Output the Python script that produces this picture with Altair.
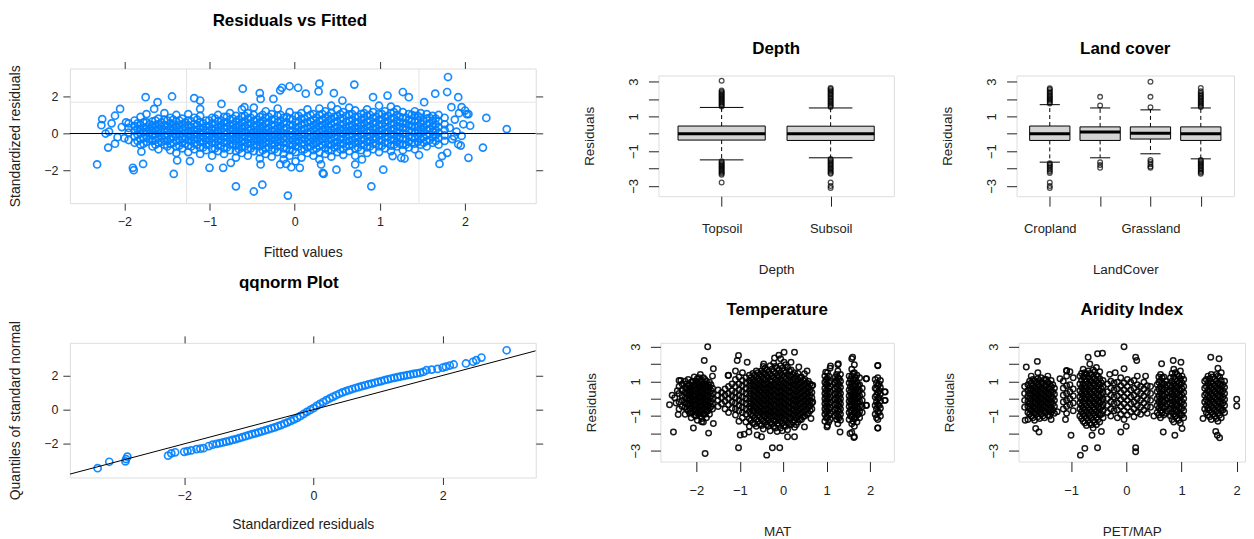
import altair as alt
import pandas as pd

FONT = "Liberation Sans"
BLUE = "#0080ff"
INK = "#222222"

# ---------------- Residuals vs Fitted (x = fitted, y = standardized residual) ----------------
RVF_COLUMNS = [
    (-1.95, [-0.35, 0.05, 0.3, 0.55]),
    (-1.88, [-0.5, -0.15, 0.15, 0.4, 0.7]),
    (-1.81, [-0.6, -0.3, 0.0, 0.2, 0.45, 0.9]),
    (-1.74, [-0.45, -0.2, 0.1, 0.35, 0.6, 1.05]),
    (-1.67, [-0.7, -0.4, -0.1, 0.15, 0.4, 0.65]),
    (-1.60, [-0.85, -0.5, -0.25, 0.0, 0.25, 0.5, 0.8]),
    (-1.53, [-0.6, -0.35, -0.1, 0.2, 0.45, 0.75, 1.1]),
    (-1.46, [-0.9, -0.55, -0.3, 0.05, 0.3, 0.55, 0.85]),
    (-1.39, [-1.05, -0.7, -0.4, -0.15, 0.1, 0.35, 0.65, 1.0]),
    (-1.32, [-0.8, -0.5, -0.25, 0.0, 0.25, 0.5, 0.8]),
    (-1.25, [-1.0, -0.65, -0.35, -0.1, 0.15, 0.45, 0.7, 1.05]),
    (-1.18, [-0.85, -0.55, -0.3, -0.05, 0.2, 0.5, 0.85]),
    (-1.11, [-1.1, -0.75, -0.45, -0.2, 0.05, 0.3, 0.6, 0.95]),
    (-1.04, [-0.9, -0.6, -0.35, -0.1, 0.15, 0.4, 0.7]),
    (-0.97, [-1.2, -0.8, -0.5, -0.25, 0.0, 0.25, 0.55, 0.85]),
    (-0.90, [-0.95, -0.65, -0.4, -0.15, 0.1, 0.35, 0.65, 1.0]),
    (-0.83, [-1.1, -0.8, -0.5, -0.2, 0.05, 0.3, 0.6, 0.9]),
    (-0.76, [-0.9, -0.6, -0.35, -0.1, 0.2, 0.45, 0.75, 1.1]),
    (-0.69, [-1.3, -0.95, -0.65, -0.4, -0.15, 0.1, 0.35, 0.65, 0.95]),
    (-0.62, [-1.05, -0.75, -0.45, -0.2, 0.05, 0.3, 0.6, 0.9, 1.3]),
    (-0.55, [-1.2, -0.85, -0.55, -0.3, 0.0, 0.25, 0.5, 0.8, 1.1]),
    (-0.48, [-0.95, -0.65, -0.4, -0.15, 0.1, 0.4, 0.7, 1.0, 1.4]),
    (-0.41, [-1.35, -1.0, -0.7, -0.45, -0.2, 0.05, 0.3, 0.6, 0.9]),
    (-0.34, [-1.1, -0.8, -0.5, -0.25, 0.0, 0.25, 0.55, 0.85, 1.2]),
    (-0.27, [-1.25, -0.9, -0.6, -0.35, -0.1, 0.15, 0.45, 0.75, 1.05]),
    (-0.20, [-1.0, -0.7, -0.45, -0.2, 0.05, 0.3, 0.6, 0.95, 1.35]),
    (-0.13, [-1.4, -1.1, -0.8, -0.5, -0.25, 0.0, 0.25, 0.55, 0.85]),
    (-0.06, [-1.2, -0.9, -0.6, -0.35, -0.1, 0.15, 0.45, 0.8, 1.15]),
    (0.01, [-1.5, -1.0, -0.7, -0.45, -0.2, 0.05, 0.3, 0.6, 0.95]),
    (0.08, [-1.3, -0.85, -0.55, -0.3, -0.05, 0.2, 0.5, 0.8, 1.1]),
    (0.15, [-1.05, -0.75, -0.45, -0.2, 0.05, 0.3, 0.6, 0.9, 1.3]),
    (0.22, [-1.2, -0.9, -0.6, -0.35, -0.1, 0.2, 0.45, 0.75, 1.05]),
    (0.29, [-1.4, -1.0, -0.7, -0.4, -0.15, 0.1, 0.4, 0.7, 1.0, 1.35]),
    (0.36, [-1.1, -0.8, -0.5, -0.25, 0.0, 0.3, 0.55, 0.85, 1.2]),
    (0.43, [-1.25, -0.9, -0.6, -0.3, -0.05, 0.2, 0.5, 0.8, 1.1, 1.5]),
    (0.50, [-1.0, -0.7, -0.45, -0.15, 0.1, 0.35, 0.65, 0.95, 1.3]),
    (0.57, [-1.15, -0.85, -0.55, -0.3, 0.0, 0.25, 0.5, 0.8, 1.15]),
    (0.64, [-0.95, -0.65, -0.4, -0.1, 0.15, 0.4, 0.7, 1.0, 1.4]),
    (0.71, [-1.2, -0.8, -0.5, -0.25, 0.05, 0.3, 0.6, 0.9, 1.25]),
    (0.78, [-0.9, -0.6, -0.35, -0.05, 0.2, 0.45, 0.75, 1.05]),
    (0.85, [-1.05, -0.75, -0.45, -0.15, 0.1, 0.4, 0.65, 0.95, 1.3]),
    (0.92, [-0.85, -0.55, -0.3, 0.0, 0.25, 0.55, 0.85, 1.15]),
    (0.99, [-1.0, -0.7, -0.4, -0.1, 0.15, 0.45, 0.75, 1.05, 1.5]),
    (1.06, [-0.8, -0.5, -0.2, 0.05, 0.35, 0.6, 0.9, 1.2]),
    (1.13, [-0.95, -0.65, -0.35, -0.05, 0.2, 0.5, 0.8, 1.1, 1.45]),
    (1.20, [-0.7, -0.45, -0.15, 0.1, 0.4, 0.7, 1.0, 1.3]),
    (1.27, [-0.9, -0.6, -0.3, 0.0, 0.3, 0.55, 0.85, 1.15]),
    (1.34, [-0.75, -0.45, -0.15, 0.15, 0.45, 0.75, 1.05]),
    (1.41, [-0.85, -0.55, -0.25, 0.05, 0.35, 0.65, 0.95, 1.2]),
    (1.48, [-0.6, -0.3, 0.0, 0.25, 0.55, 0.85, 1.1]),
    (1.55, [-0.7, -0.4, -0.1, 0.2, 0.5, 0.8, 1.05]),
    (1.62, [-0.5, -0.2, 0.1, 0.4, 0.7, 0.95]),
    (1.69, [-0.6, -0.25, 0.05, 0.35, 0.65, 1.0]),
    (1.76, [-0.4, -0.1, 0.2, 0.5, 0.85]),
]
RVF_CORE_EXTRA = [
    (-1.845, [-0.4, -0.05, 0.25, 0.55]),
    (-1.775, [-0.55, -0.25, 0.05, 0.3, 0.6]),
    (-1.705, [-0.3, 0.0, 0.25, 0.5]),
    (-1.635, [-0.6, -0.35, -0.05, 0.2, 0.45, 0.7]),
    (-1.565, [-0.45, -0.15, 0.1, 0.35, 0.6]),
    (-1.495, [-0.7, -0.4, -0.1, 0.15, 0.4, 0.7]),
    (-1.425, [-0.5, -0.2, 0.0, 0.25, 0.5, 0.75]),
    (-1.355, [-0.65, -0.35, -0.05, 0.2, 0.45, 0.7]),
    (-1.285, [-0.55, -0.3, 0.05, 0.35, 0.6]),
    (-1.215, [-0.7, -0.4, -0.15, 0.1, 0.35, 0.65]),
    (-1.145, [-0.6, -0.3, -0.05, 0.2, 0.45, 0.75]),
    (-1.075, [-0.75, -0.45, -0.2, 0.05, 0.3, 0.55]),
    (-1.005, [-0.6, -0.35, -0.1, 0.15, 0.4, 0.7]),
    (-0.935, [-0.8, -0.5, -0.25, 0.0, 0.25, 0.5, 0.8]),
    (-0.865, [-0.65, -0.35, -0.1, 0.2, 0.45, 0.7]),
    (-0.795, [-0.75, -0.45, -0.2, 0.05, 0.35, 0.6, 0.9]),
    (-0.725, [-0.55, -0.3, 0.0, 0.25, 0.5, 0.8]),
    (-0.655, [-0.85, -0.6, -0.3, -0.05, 0.2, 0.45, 0.75]),
    (-0.585, [-0.7, -0.45, -0.15, 0.1, 0.4, 0.65, 0.95]),
    (-0.515, [-0.8, -0.5, -0.25, 0.0, 0.25, 0.55, 0.85]),
    (-0.445, [-0.6, -0.3, -0.05, 0.2, 0.45, 0.75]),
    (-0.375, [-0.9, -0.6, -0.35, -0.1, 0.15, 0.4, 0.7, 1.0]),
    (-0.305, [-0.75, -0.45, -0.2, 0.05, 0.3, 0.6, 0.9]),
    (-0.235, [-0.85, -0.55, -0.3, -0.05, 0.2, 0.45, 0.75]),
    (-0.165, [-0.65, -0.4, -0.1, 0.15, 0.4, 0.7, 1.0]),
    (-0.095, [-0.8, -0.5, -0.25, 0.0, 0.3, 0.6, 0.9]),
    (-0.025, [-0.9, -0.6, -0.35, -0.1, 0.15, 0.45, 0.75]),
    (0.045, [-0.7, -0.4, -0.15, 0.1, 0.35, 0.65, 0.95]),
    (0.115, [-0.85, -0.6, -0.3, -0.05, 0.25, 0.55, 0.8]),
    (0.185, [-0.7, -0.45, -0.2, 0.1, 0.35, 0.65, 1.0]),
    (0.255, [-0.8, -0.5, -0.25, 0.0, 0.3, 0.55, 0.85]),
    (0.325, [-0.6, -0.3, -0.05, 0.2, 0.45, 0.75, 1.05]),
    (0.395, [-0.9, -0.6, -0.35, -0.1, 0.15, 0.4, 0.7, 0.95]),
    (0.465, [-0.75, -0.5, -0.2, 0.05, 0.3, 0.6, 0.9]),
    (0.535, [-0.85, -0.55, -0.3, 0.0, 0.25, 0.5, 0.8, 1.05]),
    (0.605, [-0.7, -0.4, -0.15, 0.1, 0.35, 0.65, 0.95]),
    (0.675, [-0.6, -0.35, -0.05, 0.2, 0.45, 0.75, 1.05]),
    (0.745, [-0.75, -0.45, -0.2, 0.1, 0.35, 0.6, 0.9]),
    (0.815, [-0.6, -0.3, 0.0, 0.25, 0.55, 0.85, 1.1]),
    (0.885, [-0.7, -0.4, -0.15, 0.15, 0.4, 0.7, 1.0]),
    (0.955, [-0.55, -0.25, 0.05, 0.3, 0.6, 0.9]),
    (1.025, [-0.65, -0.35, -0.05, 0.2, 0.5, 0.75, 1.05]),
    (1.095, [-0.5, -0.2, 0.1, 0.35, 0.65, 0.95]),
    (1.165, [-0.6, -0.3, -0.05, 0.25, 0.55, 0.85, 1.15]),
    (1.235, [-0.55, -0.25, 0.05, 0.35, 0.6, 0.9]),
    (1.305, [-0.6, -0.3, 0.0, 0.3, 0.55, 0.85]),
    (1.375, [-0.5, -0.2, 0.1, 0.4, 0.7, 1.0]),
    (1.445, [-0.45, -0.15, 0.15, 0.4, 0.7, 0.95]),
    (1.515, [-0.5, -0.2, 0.1, 0.35, 0.65]),
    (1.585, [-0.35, -0.05, 0.25, 0.55, 0.85]),
    (1.655, [-0.4, -0.1, 0.2, 0.5, 0.8]),
]
RVF_SCATTERED = [
    (-2.32, -1.67), (-2.26, 0.78), (-2.27, 0.45), (-2.22, 0.0), (-2.18, 0.1), (-2.15, 0.55),
    (-2.05, 1.33), (-2.11, 0.96), (-2.19, -0.76), (-2.11, -0.55), (-2.08, -0.2), (-2.03, 0.35),
    (-2.0, -0.25), (-1.98, 0.6), (-1.90, -1.85), (-1.89, -1.98), (-1.75, 1.96), (-1.78, -1.64),
    (-1.80, -0.98), (-1.65, 1.33), (-1.61, 1.69), (-1.44, 2.0), (-1.42, -2.18), (-1.38, -1.45),
    (-1.18, 1.91), (-1.11, 1.78), (-1.11, 1.33), (-1.23, -1.49), (-1.00, -1.85), (-0.86, 1.6),
    (-0.84, -1.85), (-0.75, -1.58), (-0.69, -2.85), (-0.61, 2.42), (-0.59, 1.42), (-0.48, -3.13),
    (-0.40, 1.87), (-0.41, 2.18), (-0.38, -2.76), (-0.40, -1.67), (-0.25, 1.87), (-0.17, 2.33),
    (-0.15, 2.47), (-0.06, 2.55), (0.04, 2.47), (-0.08, -3.35), (-0.17, -1.67), (-0.10, -1.64),
    (-0.04, -1.82), (0.06, -1.85), (0.13, 2.15), (0.29, 2.69), (0.28, 2.27), (0.31, -1.67),
    (0.33, -2.13), (0.34, -2.18), (0.46, 2.18), (0.49, -1.95), (0.56, 1.78), (0.70, 2.64),
    (0.71, -1.67), (0.74, -2.18), (0.79, -1.40), (0.90, -2.85), (0.92, 1.96), (1.04, -1.95),
    (1.09, 2.05), (1.15, -1.22), (1.27, 2.24), (1.25, -1.31), (1.29, -1.35), (1.34, 1.96),
    (1.46, -1.16), (1.52, 1.69), (1.65, 2.15), (1.70, -1.64), (1.73, -1.22), (1.79, -1.04),
    (1.80, 3.05), (1.79, 2.24), (1.84, 1.42), (1.92, 1.96), (1.96, 1.42), (2.0, 1.24),
    (1.92, -0.58), (1.96, -0.13), (2.04, 1.05), (2.04, -1.31), (2.06, 0.42), (2.21, -0.76),
    (2.25, 0.84), (2.49, 0.24), (1.82, 0.3), (1.85, -0.3), (1.88, 0.75), (1.90, 0.1),
    (1.93, 1.1), (1.95, -0.65), (1.98, 0.5), (2.02, 1.05), (1.87, -0.15),
]
RVF_GRID_X = [-1.27, 1.46]
RVF_GRID_Y = [1.69]
RVF_ZERO = [0.0]

# ---------------- qqnorm (x = standardized residual, y = normal quantile) ----------------
QQ_POINTS = [
    (-3.34, -3.45), (-3.16, -3.07), (-2.91, -3.05), (-2.90, -2.91), (-2.88, -2.77),
    (-2.25, -2.71), (-2.20, -2.57), (-2.14, -2.51), (-2.00, -2.48), (-1.95, -2.44),
    (-1.89, -2.40), (-1.81, -2.32), (-1.75, -2.30), (-1.70, -2.27), (-1.62, -2.14),
    (-1.56, -2.06), (-1.50, -2.01), (-1.45, -1.97), (-1.40, -1.93), (-1.35, -1.88),
    (-1.30, -1.83), (-1.25, -1.78), (-1.20, -1.73), (-1.15, -1.67), (-1.10, -1.62),
    (-1.05, -1.56), (-1.00, -1.50), (-0.95, -1.44), (-0.90, -1.39), (-0.85, -1.33),
    (-0.80, -1.27), (-0.75, -1.22), (-0.70, -1.16), (-0.65, -1.10), (-0.60, -1.04),
    (-0.55, -0.97), (-0.50, -0.90), (-0.45, -0.82), (-0.40, -0.74), (-0.35, -0.65),
    (-0.30, -0.56), (-0.25, -0.47), (-0.20, -0.36), (-0.15, -0.24), (-0.10, -0.12),
    (-0.05, -0.01), (0.00, 0.10), (0.05, 0.23), (0.10, 0.35), (0.15, 0.46),
    (0.20, 0.57), (0.25, 0.67), (0.30, 0.77), (0.35, 0.86), (0.40, 0.95),
    (0.45, 1.03), (0.50, 1.10), (0.55, 1.17), (0.60, 1.23), (0.65, 1.29),
    (0.70, 1.34), (0.75, 1.40), (0.80, 1.45), (0.85, 1.50), (0.90, 1.55),
    (0.95, 1.60), (1.00, 1.65), (1.05, 1.70), (1.10, 1.75), (1.15, 1.80),
    (1.20, 1.85), (1.25, 1.89), (1.30, 1.93), (1.35, 1.97), (1.40, 2.01),
    (1.45, 2.05), (1.50, 2.08), (1.55, 2.12), (1.60, 2.15), (1.65, 2.19),
    (1.70, 2.24), (1.75, 2.34), (1.83, 2.38), (1.92, 2.42), (2.00, 2.50),
    (2.05, 2.55), (2.11, 2.62), (2.17, 2.68), (2.36, 2.74), (2.47, 2.84),
    (2.52, 2.94), (2.60, 3.09), (2.99, 3.52),
]
QQ_LINE_INTERCEPT = 0.011
QQ_LINE_SLOPE = 1.011
QQ_LINE_X = [-3.77, 3.44]

# ---------------- Depth boxplot ----------------
DEPTH_LABELS = ["Topsoil", "Subsoil"]
DEPTH_Q1 = [-0.36, -0.38]
DEPTH_MED = [0.01, 0.0]
DEPTH_Q3 = [0.45, 0.44]
DEPTH_LO = [-1.50, -1.38]
DEPTH_HI = [1.52, 1.49]
DEPTH_OUTLIERS = [
    [1.58, 1.65, 1.72, 1.79, 1.86, 1.93, 2.0, 2.07, 2.14, 2.21, 2.28, 2.35, 2.42, 2.5, 3.06,
     -1.58, -1.65, -1.72, -1.79, -1.86, -1.93, -2.0, -2.07, -2.14, -2.21, -2.28, -2.36, -2.8],
    [1.55, 1.62, 1.7, 1.78, 1.86, 1.94, 2.02, 2.1, 2.18, 2.26, 2.34, 2.42, 2.5, 2.58, 2.64,
     -1.45, -1.52, -1.6, -1.68, -1.76, -1.84, -1.92, -2.0, -2.08, -2.16, -2.24, -2.3, -2.8, -3.0, -3.12],
]

# ---------------- Land cover boxplot (only 1st and 3rd names are printed) ----------------
LAND_LABELS = ["Cropland", "", "Grassland", ""]
LAND_Q1 = [-0.38, -0.38, -0.30, -0.38]
LAND_MED = [0.0, 0.10, 0.03, 0.0]
LAND_Q3 = [0.45, 0.40, 0.40, 0.40]
LAND_LO = [-1.63, -1.38, -1.15, -1.44]
LAND_HI = [1.68, 1.49, 1.38, 1.49]
LAND_OUTLIERS = [
    [1.75, 1.82, 1.9, 1.97, 2.05, 2.12, 2.2, 2.28, 2.36, 2.45, 2.55, 2.62,
     -1.7, -1.78, -1.86, -1.95, -2.05, -2.15, -2.25, -2.8, -3.0, -3.12],
    [1.63, 2.13, -1.63, -1.8, -1.95],
    [1.53, 2.13, 3.0, -1.5, -1.62, -1.75, -1.88, -1.95],
    [1.55, 1.62, 1.7, 1.78, 1.86, 1.94, 2.02, 2.1, 2.18, 2.26, 2.35, 2.45, 2.64,
     -1.5, -1.58, -1.66, -1.74, -1.82, -1.9, -1.98, -2.06, -2.14, -2.22, -2.3],
]

# ---------------- Temperature (x = MAT, y = residual) ----------------
TEMP_COLUMNS = [
    (-2.40, [-0.6, -0.2, 0.3, 0.7, 1.05]),
    (-2.33, [-0.45, -0.1, 0.15, 0.5, 0.85]),
    (-2.26, [-0.9, -0.5, -0.25, 0.05, 0.35, 0.65, 1.0]),
    (-2.19, [-0.7, -0.35, -0.1, 0.2, 0.45, 0.75, 1.1]),
    (-2.12, [-1.1, -0.8, -0.5, -0.2, 0.1, 0.35, 0.6, 0.95]),
    (-2.05, [-0.95, -0.6, -0.35, -0.05, 0.25, 0.5, 0.8, 1.25]),
    (-1.98, [-1.25, -0.85, -0.55, -0.25, 0.0, 0.3, 0.6, 0.9, 1.15]),
    (-1.91, [-1.0, -0.7, -0.4, -0.15, 0.15, 0.45, 0.7, 1.05, 1.4]),
    (-1.84, [-1.35, -0.9, -0.6, -0.3, 0.0, 0.25, 0.55, 0.85, 1.2]),
    (-1.77, [-1.1, -0.75, -0.45, -0.2, 0.1, 0.4, 0.7, 1.0]),
    (-1.70, [-0.9, -0.55, -0.25, 0.05, 0.35, 0.65, 0.95]),
    (-1.63, [-0.6, -0.3, 0.0, 0.3, 0.6, 1.3]),
    (-1.50, [-0.45, -0.1, 0.2, 0.5]),
    (-1.42, [-0.3, 0.05, 0.35]),
    (-1.34, [-0.6, -0.15, 0.2, 0.55]),
    (-1.26, [-0.8, -0.35, 0.0, 0.3, 0.7, 1.35]),
    (-1.18, [-0.55, -0.2, 0.15, 0.45, 0.85]),
    (-1.10, [-0.95, -0.6, -0.25, 0.05, 0.35, 0.7, 1.1, 1.6]),
    (-1.02, [-1.3, -0.7, -0.4, -0.1, 0.2, 0.5, 0.85, 1.25]),
    (-0.94, [-1.1, -0.8, -0.5, -0.2, 0.1, 0.4, 0.75, 1.05, 1.5]),
    (-0.86, [-1.35, -0.9, -0.6, -0.3, 0.0, 0.3, 0.6, 0.9, 1.2]),
    (-0.78, [-1.6, -1.15, -0.75, -0.45, -0.15, 0.15, 0.45, 0.75, 1.05, 1.35]),
    (-0.70, [-1.4, -1.0, -0.7, -0.4, -0.1, 0.2, 0.5, 0.8, 1.1, 1.45]),
    (-0.62, [-1.6, -1.2, -0.85, -0.55, -0.25, 0.05, 0.35, 0.65, 0.95, 1.3, 1.6]),
    (-0.54, [-1.45, -1.05, -0.75, -0.45, -0.15, 0.15, 0.45, 0.75, 1.05, 1.4]),
    (-0.46, [-1.75, -1.3, -0.95, -0.65, -0.35, -0.05, 0.25, 0.55, 0.85, 1.15, 1.5, 1.85]),
    (-0.38, [-1.5, -1.15, -0.85, -0.55, -0.25, 0.05, 0.35, 0.65, 0.95, 1.3, 1.65]),
    (-0.30, [-1.85, -1.4, -1.05, -0.75, -0.45, -0.15, 0.15, 0.45, 0.75, 1.05, 1.4, 1.9]),
    (-0.22, [-1.6, -1.25, -0.95, -0.65, -0.35, -0.05, 0.25, 0.55, 0.85, 1.2, 1.55, 2.05]),
    (-0.14, [-1.9, -1.45, -1.1, -0.8, -0.5, -0.2, 0.1, 0.4, 0.7, 1.0, 1.35, 1.75]),
    (-0.06, [-1.7, -1.3, -1.0, -0.7, -0.4, -0.1, 0.2, 0.5, 0.8, 1.1, 1.45, 1.9, 2.3]),
    (0.02, [-1.55, -1.2, -0.9, -0.6, -0.3, 0.0, 0.3, 0.6, 0.9, 1.25, 1.6, 2.1]),
    (0.10, [-1.8, -1.4, -1.05, -0.75, -0.45, -0.15, 0.15, 0.45, 0.75, 1.05, 1.4, 1.8]),
    (0.18, [-1.5, -1.15, -0.85, -0.55, -0.25, 0.05, 0.35, 0.65, 0.95, 1.3, 1.65]),
    (0.26, [-1.65, -1.25, -0.95, -0.65, -0.35, -0.05, 0.25, 0.55, 0.85, 1.15, 1.5]),
    (0.34, [-1.35, -1.0, -0.7, -0.4, -0.1, 0.2, 0.5, 0.8, 1.1, 1.45]),
    (0.42, [-1.2, -0.85, -0.55, -0.25, 0.05, 0.35, 0.65, 0.95, 1.25]),
    (0.50, [-1.0, -0.7, -0.4, -0.1, 0.2, 0.5, 0.8, 1.1]),
    (0.58, [-0.85, -0.5, -0.2, 0.1, 0.4, 0.7, 1.0]),
    (0.66, [-0.6, -0.25, 0.05, 0.35, 0.75]),
    (0.96, [-1.3, -0.9, -0.6, -0.3, 0.0, 0.3, 0.6, 0.95, 1.3]),
    (1.02, [-1.55, -1.1, -0.75, -0.45, -0.15, 0.15, 0.45, 0.8, 1.15, 1.5]),
    (1.08, [-1.2, -0.85, -0.5, -0.2, 0.1, 0.4, 0.7, 1.0, 1.75]),
    (1.20, [-1.0, -0.65, -0.35, -0.05, 0.25, 0.55, 0.9, 1.25]),
    (1.26, [-1.45, -1.05, -0.7, -0.4, -0.1, 0.2, 0.5, 0.85, 1.2, 1.6, 1.95]),
    (1.32, [-1.25, -0.9, -0.6, -0.3, 0.0, 0.3, 0.65, 1.0, 1.4]),
    (1.52, [-1.2, -0.8, -0.45, -0.15, 0.15, 0.5, 0.9, 1.3]),
    (1.58, [-1.95, -1.45, -1.05, -0.7, -0.4, -0.1, 0.2, 0.55, 0.9, 1.3, 1.7, 2.3]),
    (1.64, [-2.2, -1.6, -1.15, -0.8, -0.5, -0.2, 0.1, 0.4, 0.75, 1.1, 1.5, 1.95]),
    (1.70, [-1.35, -0.95, -0.6, -0.3, 0.0, 0.3, 0.6, 0.95, 1.35]),
    (1.76, [-1.1, -0.75, -0.45, -0.15, 0.15, 0.45, 0.8, 1.2]),
    (1.82, [-0.8, -0.45, -0.1, 0.25, 0.6]),
    (1.92, [-0.4, 1.15]),
    (2.12, [-0.9, -0.4, 0.1, 0.6, 1.1]),
    (2.18, [-1.7, -1.2, -0.75, -0.35, 0.0, 0.35, 0.75, 1.2, 1.9]),
    (2.24, [-1.0, -0.55, -0.15, 0.25, 0.65, 1.05]),
    (2.34, [-0.1, 0.4]),
]
TEMP_CORE_EXTRA = [
    (-2.225, [-0.6, -0.3, 0.0, 0.3, 0.6, 0.85]),
    (-2.155, [-0.85, -0.55, -0.3, 0.0, 0.25, 0.5, 0.8]),
    (-2.085, [-0.75, -0.45, -0.1, 0.15, 0.4, 0.65, 1.0]),
    (-2.015, [-1.0, -0.7, -0.4, -0.1, 0.15, 0.45, 0.75, 1.0]),
    (-1.945, [-0.85, -0.55, -0.25, 0.05, 0.3, 0.6, 0.85, 1.2]),
    (-1.875, [-1.15, -0.75, -0.45, -0.15, 0.1, 0.4, 0.7, 1.0]),
    (-1.805, [-0.9, -0.6, -0.3, -0.05, 0.25, 0.55, 0.85, 1.1]),
    (-1.735, [-0.7, -0.4, -0.1, 0.2, 0.5, 0.8]),
    (-1.665, [-0.45, -0.15, 0.15, 0.45, 0.8]),
    (-0.74, [-1.25, -0.9, -0.55, -0.3, 0.0, 0.3, 0.6, 0.9, 1.2]),
    (-0.66, [-1.45, -1.1, -0.75, -0.45, -0.15, 0.15, 0.45, 0.75, 1.0, 1.35]),
    (-0.58, [-1.3, -0.95, -0.65, -0.35, -0.05, 0.25, 0.55, 0.85, 1.15, 1.5]),
    (-0.50, [-1.55, -1.2, -0.85, -0.55, -0.25, 0.05, 0.35, 0.65, 0.95, 1.25, 1.6]),
    (-0.42, [-1.35, -1.0, -0.7, -0.4, -0.1, 0.2, 0.5, 0.8, 1.1, 1.45, 1.75]),
    (-0.34, [-1.6, -1.25, -0.95, -0.65, -0.35, -0.05, 0.25, 0.55, 0.85, 1.2, 1.55]),
    (-0.26, [-1.45, -1.1, -0.8, -0.5, -0.2, 0.1, 0.4, 0.7, 1.0, 1.3, 1.7]),
    (-0.18, [-1.7, -1.3, -1.0, -0.7, -0.4, -0.1, 0.2, 0.5, 0.8, 1.1, 1.45, 1.85]),
    (-0.10, [-1.5, -1.15, -0.85, -0.55, -0.25, 0.05, 0.35, 0.65, 0.95, 1.3, 1.65]),
    (-0.02, [-1.85, -1.4, -1.1, -0.8, -0.5, -0.2, 0.1, 0.4, 0.7, 1.0, 1.35, 1.75]),
    (0.06, [-1.6, -1.25, -0.95, -0.65, -0.35, -0.05, 0.25, 0.55, 0.85, 1.15, 1.5, 1.95]),
    (0.14, [-1.45, -1.1, -0.8, -0.5, -0.2, 0.1, 0.4, 0.7, 1.0, 1.35, 1.6]),
    (0.22, [-1.35, -1.0, -0.7, -0.4, -0.1, 0.2, 0.5, 0.8, 1.05, 1.4]),
    (0.30, [-1.5, -1.1, -0.8, -0.5, -0.2, 0.1, 0.4, 0.7, 1.0, 1.3]),
    (0.38, [-1.2, -0.9, -0.6, -0.3, 0.0, 0.3, 0.6, 0.9, 1.2]),
    (0.46, [-1.05, -0.75, -0.45, -0.15, 0.15, 0.45, 0.75, 1.05]),
    (0.54, [-0.9, -0.6, -0.3, 0.0, 0.3, 0.6, 0.9]),
    (0.62, [-0.7, -0.4, -0.1, 0.2, 0.5, 0.85]),
    (0.99, [-1.1, -0.75, -0.45, -0.15, 0.15, 0.45, 0.8, 1.1]),
    (1.05, [-1.35, -0.95, -0.6, -0.3, 0.0, 0.3, 0.6, 0.95, 1.3]),
    (1.23, [-1.2, -0.85, -0.55, -0.25, 0.05, 0.35, 0.7, 1.05, 1.4]),
    (1.29, [-1.1, -0.75, -0.45, -0.15, 0.15, 0.45, 0.8, 1.15]),
    (1.55, [-1.0, -0.65, -0.3, 0.0, 0.35, 0.7, 1.1]),
    (1.61, [-1.3, -0.9, -0.55, -0.25, 0.05, 0.35, 0.7, 1.05, 1.45]),
    (1.67, [-1.1, -0.75, -0.4, -0.1, 0.2, 0.5, 0.85, 1.2]),
    (1.73, [-0.9, -0.55, -0.2, 0.1, 0.45, 0.75]),
    (2.15, [-1.1, -0.6, -0.2, 0.2, 0.55, 0.9]),
    (2.21, [-0.8, -0.4, 0.05, 0.45, 0.85]),
]
TEMP_SCATTERED = [
    (-2.62, -0.35), (-2.56, 0.2), (-2.5, 0.05), (-2.53, -1.92), (-2.47, -0.25), (-2.44, 0.45),
    (-1.74, 3.0), (-1.82, 2.2), (-1.61, 1.72), (-1.72, -1.99), (-1.80, -3.16), (-2.07, -1.69),
    (-1.61, -1.44), (-1.88, -1.34), (-2.42, -0.92), (-2.36, 1.05), (-1.27, 1.34), (-1.03, 2.49),
    (-1.06, 2.2), (-0.83, 2.1), (-0.99, -2.1), (-1.03, -2.83), (-0.79, -1.92), (0.02, 2.68),
    (0.26, 2.68), (0.18, 2.1), (0.36, 1.82), (0.49, 1.44), (-0.38, -3.26), (-0.25, -2.83),
    (-0.08, -2.83), (-0.6, -2.1), (0.26, -2.2), (0.49, -1.63), (0.64, -1.15), (0.68, -0.19),
    (0.68, 0.77), (0.98, 1.53), (1.09, 1.88), (1.01, -1.63), (1.27, 2.01), (1.31, -1.92),
    (1.60, 2.39), (1.63, -2.24), (1.54, -2.01), (1.91, -0.38), (1.91, 1.15), (2.18, 1.92),
    (2.18, -1.69), (2.35, 0.38), (2.35, -0.1), (-0.1, 2.5), (-0.2, 2.35), (-0.45, 2.0),
    (-0.5, -2.2), (0.1, -2.2), (-0.9, -2.05), (0.55, 1.6),
]

# ---------------- Aridity Index (x = PET/MAP, y = residual) ----------------
ARID_COLUMNS = [
    (-1.84, [-0.5, -0.1, 0.3, 0.7]),
    (-1.78, [-1.2, -0.8, -0.45, -0.15, 0.15, 0.45, 0.8]),
    (-1.72, [-1.0, -0.65, -0.35, -0.05, 0.25, 0.55, 0.9, 1.3]),
    (-1.66, [-1.25, -0.85, -0.55, -0.25, 0.05, 0.35, 0.65, 1.0]),
    (-1.60, [-1.05, -0.7, -0.4, -0.1, 0.2, 0.5, 0.8, 1.15, 1.5]),
    (-1.54, [-0.9, -0.6, -0.3, 0.0, 0.3, 0.6, 0.9, 1.2]),
    (-1.48, [-1.1, -0.75, -0.45, -0.15, 0.15, 0.45, 0.75, 1.1]),
    (-1.42, [-0.95, -0.6, -0.3, 0.0, 0.3, 0.6, 0.95, 1.3]),
    (-1.36, [-1.2, -0.8, -0.5, -0.2, 0.1, 0.4, 0.7, 1.05]),
    (-1.30, [-0.85, -0.45, -0.1, 0.25, 0.6]),
    (-1.14, [-0.6, -0.2, 0.2, 0.6, 1.0]),
    (-1.08, [-0.85, -0.45, -0.1, 0.3, 0.75, 1.3, 1.6]),
    (-1.02, [-0.35, 0.0, 0.4, 0.8, 1.55]),
    (-0.96, [-0.7, -0.25, 0.15, 0.55, 1.2]),
    (-0.84, [-1.0, -0.6, -0.25, 0.1, 0.45, 0.85, 1.3]),
    (-0.78, [-1.3, -0.9, -0.55, -0.2, 0.15, 0.5, 0.85, 1.25, 1.7]),
    (-0.72, [-1.55, -1.1, -0.75, -0.4, -0.05, 0.3, 0.65, 1.0, 1.4]),
    (-0.66, [-1.4, -1.0, -0.65, -0.3, 0.0, 0.35, 0.7, 1.05, 1.45, 2.0]),
    (-0.60, [-1.7, -1.25, -0.85, -0.5, -0.15, 0.2, 0.55, 0.9, 1.25, 1.65]),
    (-0.54, [-1.5, -1.1, -0.75, -0.4, -0.05, 0.3, 0.65, 1.0, 1.35, 1.8]),
    (-0.48, [-1.35, -0.95, -0.6, -0.25, 0.1, 0.45, 0.8, 1.15, 1.55]),
    (-0.42, [-1.1, -0.7, -0.35, 0.0, 0.35, 0.7, 1.05]),
    (-0.34, [-0.8, -0.4, 0.0, 0.4, 0.85]),
    (-0.28, [-1.0, -0.6, -0.2, 0.2, 0.6, 1.0]),
    (-0.22, [-0.7, -0.3, 0.1, 0.5, 0.9]),
    (-0.16, [-1.1, -0.65, -0.25, 0.15, 0.55, 0.95]),
    (-0.10, [-0.9, -0.45, -0.05, 0.35, 0.75, 1.2]),
    (-0.04, [-1.2, -0.7, -0.3, 0.1, 0.5, 0.9]),
    (0.02, [-0.95, -0.5, -0.1, 0.3, 0.7, 1.1]),
    (0.08, [-0.75, -0.3, 0.1, 0.5, 0.95]),
    (0.14, [-1.05, -0.6, -0.2, 0.2, 0.6, 1.05]),
    (0.20, [-0.8, -0.4, 0.0, 0.4, 0.8, 1.3]),
    (0.26, [-0.9, -0.5, -0.1, 0.3, 0.7]),
    (0.32, [-0.65, -0.25, 0.15, 0.55, 0.95]),
    (0.38, [-0.85, -0.45, -0.05, 0.35, 0.75]),
    (0.44, [-0.5, -0.1, 0.3, 0.7]),
    (0.56, [-0.8, -0.4, 0.0, 0.4, 0.8]),
    (0.62, [-1.1, -0.7, -0.35, 0.0, 0.35, 0.7, 1.05, 1.4]),
    (0.68, [-0.95, -0.55, -0.2, 0.15, 0.5, 0.85, 1.25]),
    (0.74, [-0.7, -0.3, 0.05, 0.4, 0.8]),
    (0.80, [-1.0, -0.6, -0.25, 0.1, 0.45, 0.8, 1.2]),
    (0.86, [-1.35, -0.9, -0.55, -0.2, 0.15, 0.5, 0.85, 1.25, 1.7]),
    (0.92, [-1.15, -0.75, -0.4, -0.05, 0.3, 0.65, 1.0, 1.4]),
    (0.98, [-1.4, -0.95, -0.6, -0.25, 0.1, 0.45, 0.8, 1.15, 1.6]),
    (1.04, [-1.1, -0.7, -0.35, 0.0, 0.35, 0.7, 1.1]),
    (1.42, [-0.6, -0.2, 0.2, 0.6, 1.0]),
    (1.48, [-0.95, -0.55, -0.2, 0.15, 0.5, 0.9, 1.3]),
    (1.54, [-1.2, -0.8, -0.45, -0.1, 0.25, 0.6, 0.95, 1.4]),
    (1.60, [-1.0, -0.65, -0.3, 0.05, 0.4, 0.75, 1.1]),
    (1.66, [-1.3, -0.85, -0.5, -0.15, 0.2, 0.55, 0.9, 1.3, 1.75]),
    (1.72, [-1.1, -0.7, -0.35, 0.0, 0.35, 0.7, 1.05, 1.5]),
    (1.78, [-0.8, -0.4, -0.05, 0.3, 0.65, 1.0]),
]
ARID_CORE_EXTRA = [
    (-1.75, [-0.9, -0.6, -0.3, 0.0, 0.3, 0.6, 1.0]),
    (-1.69, [-1.1, -0.75, -0.45, -0.15, 0.15, 0.45, 0.75, 1.1]),
    (-1.63, [-0.9, -0.6, -0.3, 0.0, 0.3, 0.6, 0.95]),
    (-1.57, [-1.15, -0.8, -0.5, -0.2, 0.1, 0.4, 0.7, 1.05]),
    (-1.51, [-1.0, -0.65, -0.35, -0.05, 0.25, 0.55, 0.9]),
    (-1.45, [-0.8, -0.5, -0.2, 0.1, 0.4, 0.75, 1.1]),
    (-1.39, [-1.0, -0.65, -0.35, -0.05, 0.25, 0.55, 0.85]),
    (-1.33, [-0.65, -0.3, 0.05, 0.4, 0.8]),
    (-0.81, [-1.15, -0.75, -0.4, -0.05, 0.3, 0.65, 1.05, 1.45]),
    (-0.75, [-1.4, -1.0, -0.65, -0.3, 0.0, 0.35, 0.7, 1.1, 1.5]),
    (-0.69, [-1.25, -0.9, -0.55, -0.2, 0.15, 0.5, 0.85, 1.2, 1.6]),
    (-0.63, [-1.5, -1.1, -0.75, -0.4, -0.05, 0.3, 0.65, 1.0, 1.4]),
    (-0.57, [-1.35, -0.95, -0.6, -0.25, 0.1, 0.45, 0.8, 1.15, 1.55]),
    (-0.51, [-1.2, -0.85, -0.5, -0.15, 0.2, 0.55, 0.9, 1.3]),
    (-0.45, [-0.9, -0.5, -0.15, 0.2, 0.55, 0.9]),
    (0.59, [-0.95, -0.55, -0.2, 0.15, 0.55, 0.95, 1.25]),
    (0.65, [-0.8, -0.5, -0.15, 0.2, 0.55, 0.9, 1.2]),
    (0.71, [-0.85, -0.45, -0.1, 0.25, 0.65, 1.0]),
    (0.83, [-1.2, -0.8, -0.4, -0.05, 0.3, 0.65, 1.0, 1.45]),
    (0.89, [-1.0, -0.7, -0.35, 0.0, 0.35, 0.7, 1.1, 1.5]),
    (0.95, [-1.25, -0.85, -0.5, -0.15, 0.2, 0.55, 0.9, 1.3]),
    (1.01, [-0.95, -0.55, -0.2, 0.2, 0.55, 0.9, 1.3]),
    (1.45, [-0.8, -0.4, -0.05, 0.3, 0.7, 1.1]),
    (1.51, [-1.05, -0.65, -0.3, 0.05, 0.4, 0.75, 1.15]),
    (1.57, [-0.9, -0.55, -0.2, 0.15, 0.5, 0.85, 1.25]),
    (1.63, [-1.15, -0.75, -0.4, -0.05, 0.3, 0.65, 1.0, 1.4]),
    (1.69, [-0.95, -0.55, -0.2, 0.15, 0.5, 0.85, 1.25]),
    (1.75, [-0.65, -0.25, 0.1, 0.45, 0.8]),
]
ARID_SCATTERED = [
    (-1.81, 1.82), (-1.61, 2.15), (-1.58, -1.92), (-1.64, -1.72), (-1.83, -1.25), (-1.08, 1.63),
    (-1.0, -2.11), (-0.83, -3.26), (-0.75, -2.87), (-0.52, 2.59), (-0.43, 2.62), (-0.69, 2.39),
    (-0.52, -2.83), (-0.62, -2.11), (-0.45, -1.9), (-0.04, 3.0), (-0.04, 1.72), (-0.2, 1.5),
    (0.17, 2.39), (0.19, 2.2), (0.17, -2.83), (0.17, -3.07), (-0.1, -1.92), (0.0, -1.6),
    (0.64, 2.01), (0.67, -1.92), (0.85, 2.2), (0.99, 2.1), (0.88, -2.11), (1.01, -1.72),
    (1.53, 2.39), (1.68, 2.3), (1.65, -2.11), (1.69, -2.26), (1.39, -1.15), (1.62, -1.9),
    (2.0, -0.04), (2.0, -0.42), (-1.2, 1.15), (-0.3, 1.4), (0.35, 1.3), (0.5, -1.0),
    (-1.25, -0.75), (-1.1, -1.2),
]


# ---------------- helpers ----------------
def points_frame(column_sets, scattered):
    rows = [(x, y) for cols in column_sets for x, ys in cols for y in ys] + list(scattered)
    return pd.DataFrame(rows, columns=["x", "y"])


def lattice_axis(values, title="", orient="bottom", labels=True, title_pad=14):
    return alt.Axis(values=values, orient=orient, labels=labels, title=title,
                    tickSize=7, tickColor="#333333", tickWidth=1, domain=False, grid=False,
                    labelFont=FONT, labelFontSize=12.5, labelColor=INK, labelPadding=5,
                    labelFlush=False, labelOverlap=False,
                    titleFont=FONT, titleFontSize=14, titleFontWeight="normal",
                    titleColor=INK, titlePadding=title_pad)


def base_y_axis():
    return alt.Axis(values=[-3, -2, -1, 0, 1, 2, 3],
                    labelExpr="datum.value % 2 != 0 ? datum.label : ''",
                    labelAngle=-90, labelAlign="center", labelBaseline="bottom",
                    tickSize=10, tickColor=INK, domain=False, grid=False,
                    labelFont=FONT, labelFontSize=13, labelColor=INK, labelPadding=8,
                    labelOverlap=False, labelFlush=False,
                    title="Residuals", titleFont=FONT, titleFontSize=13.5,
                    titleFontWeight="normal", titleColor=INK, titlePadding=31)


def base_x_axis(values, title, label_expr=None, label_pad=13):
    kw = dict(values=values, tickSize=10, tickColor=INK, domain=False, grid=False,
              labelFont=FONT, labelFontSize=13, labelColor=INK, labelPadding=label_pad,
              labelOverlap=False, labelFlush=False,
              title=title, titleFont=FONT, titleFontSize=13.5, titleFontWeight="normal",
              titleColor=INK, titlePadding=27)
    if label_expr:
        kw["labelExpr"] = label_expr
    return alt.Axis(**kw)


def panel_title(text, offset, dx=0):
    return alt.TitleParams(text=text, font=FONT, fontSize=17, fontWeight="bold",
                           color="black", anchor="middle", offset=offset, dx=dx)


LATTICE_POINT = dict(shape="circle", filled=False, size=50, strokeWidth=1.7, color=BLUE, opacity=0.9)
BASE_POINT = dict(shape="circle", filled=False, size=30, strokeWidth=1.5, color="black", opacity=0.9)

# ---------------- panel 1: Residuals vs Fitted ----------------
XS1 = alt.Scale(domain=[-2.64, 2.83], nice=False, zero=False)
YS1 = alt.Scale(domain=[-3.76, 3.51], nice=False, zero=False)
rvf = points_frame([RVF_COLUMNS, RVF_CORE_EXTRA], RVF_SCATTERED)

p1_vgrid = alt.Chart(pd.DataFrame({"x": RVF_GRID_X})).mark_rule(color="#e4e4e4").encode(
    x=alt.X("x:Q", scale=XS1, axis=lattice_axis([-2, -1, 0, 1, 2], orient="top", labels=False)))
p1_hgrid = alt.Chart(pd.DataFrame({"y": RVF_GRID_Y})).mark_rule(color="#e4e4e4").encode(
    y=alt.Y("y:Q", scale=YS1, axis=lattice_axis([-2, 0, 2], orient="right", labels=False)))
p1_pts = alt.Chart(rvf).mark_point(**LATTICE_POINT).encode(
    x=alt.X("x:Q", scale=XS1, axis=lattice_axis([-2, -1, 0, 1, 2], "Fitted values", "bottom", title_pad=18)),
    y=alt.Y("y:Q", scale=YS1, axis=lattice_axis([-2, 0, 2], "Standardized residuals", "left", title_pad=21)))
p1_zero = alt.Chart(pd.DataFrame({"y": RVF_ZERO})).mark_rule(color="black", strokeWidth=1).encode(
    y=alt.Y("y:Q", scale=YS1, axis=None))
p1 = alt.layer(p1_vgrid, p1_hgrid, p1_pts, p1_zero).resolve_axis(
    x="independent", y="independent").properties(
    width=467, height=135, title=panel_title("Residuals vs Fitted", 31, -13))

# ---------------- panel 2: qqnorm ----------------
XS2 = alt.Scale(domain=[-3.77, 3.44], nice=False, zero=False)
YS2 = alt.Scale(domain=[-4.0, 3.96], nice=False, zero=False)
qq = pd.DataFrame(QQ_POINTS, columns=["x", "y"])
qq_line = pd.DataFrame({"x": QQ_LINE_X})
qq_line["y"] = QQ_LINE_INTERCEPT + QQ_LINE_SLOPE * qq_line["x"]

p2_pts = alt.Chart(qq).mark_point(**LATTICE_POINT).encode(
    x=alt.X("x:Q", scale=XS2, axis=lattice_axis([-2, 0, 2], "Standardized residuals", "bottom", title_pad=16)),
    y=alt.Y("y:Q", scale=YS2, axis=lattice_axis([-2, 0, 2], "Quantiles of standard normal", "left", title_pad=21)))
p2_line = alt.Chart(qq_line).mark_line(color="black", strokeWidth=1, clip=True).encode(
    x=alt.X("x:Q", scale=XS2, axis=lattice_axis([-2, 0, 2], orient="top", labels=False)),
    y=alt.Y("y:Q", scale=YS2, axis=lattice_axis([-2, 0, 2], orient="right", labels=False)))
p2 = alt.layer(p2_pts, p2_line).resolve_axis(x="independent", y="independent").properties(
    width=467, height=135, title=panel_title("qqnorm Plot", 29, -14))


# ---------------- boxplot panels ----------------
def box_panel(labels, q1, med, q3, lo, hi, outliers, xdomain, width, height, title, xtitle):
    pos = list(range(1, len(labels) + 1))
    half, cap = 0.4, 0.2
    xs = alt.Scale(domain=xdomain, nice=False, zero=False)
    ys = alt.Scale(domain=[-3.59, 3.36], nice=False, zero=False)
    expr = " : ".join(f"datum.value == {p} ? '{lab}'" for p, lab in zip(pos, labels)) + " : ''"
    xax = base_x_axis(pos, xtitle, expr, label_pad=16)
    yax = base_y_axis()

    stats = pd.DataFrame({"pos": pos, "q1": q1, "med": med, "q3": q3, "lo": lo, "hi": hi})
    whisk = pd.concat([
        pd.DataFrame({"x": stats.pos, "y": stats.q3, "y2": stats.hi}),
        pd.DataFrame({"x": stats.pos, "y": stats.q1, "y2": stats.lo})])
    caps = pd.concat([
        pd.DataFrame({"x": stats.pos - cap, "x2": stats.pos + cap, "y": stats.hi}),
        pd.DataFrame({"x": stats.pos - cap, "x2": stats.pos + cap, "y": stats.lo})])
    boxes = pd.DataFrame({"x": stats.pos - half, "x2": stats.pos + half, "y": stats.q1, "y2": stats.q3})
    meds = pd.DataFrame({"x": stats.pos - half, "x2": stats.pos + half, "y": stats.med})
    outs = pd.DataFrame([(p, v) for p, vals in zip(pos, outliers) for v in vals], columns=["x", "y"])

    X = alt.X("x:Q", scale=xs, axis=xax)
    Y = alt.Y("y:Q", scale=ys, axis=yax)
    l_wh = alt.Chart(whisk).mark_rule(color="black", strokeDash=[4, 3], strokeWidth=1).encode(
        x=X, y=Y, y2="y2:Q")
    l_cap = alt.Chart(caps).mark_rule(color="black", strokeWidth=1).encode(x=X, x2="x2:Q", y=Y)
    l_box = alt.Chart(boxes).mark_rect(fill="#d3d3d3", stroke="black", strokeWidth=1).encode(
        x=X, x2="x2:Q", y=Y, y2="y2:Q")
    l_med = alt.Chart(meds).mark_rule(color="black", strokeWidth=3).encode(x=X, x2="x2:Q", y=Y)
    l_out = alt.Chart(outs).mark_point(shape="circle", filled=False, size=22, strokeWidth=1.3,
                                       color="black").encode(x=X, y=Y)
    return alt.layer(l_wh, l_cap, l_box, l_med, l_out).properties(
        width=width, height=height, title=panel_title(title, 18))


depth = box_panel(DEPTH_LABELS, DEPTH_Q1, DEPTH_MED, DEPTH_Q3, DEPTH_LO, DEPTH_HI, DEPTH_OUTLIERS,
                  [0.42, 2.58], 236, 121, "Depth", "Depth")
land = box_panel(LAND_LABELS, LAND_Q1, LAND_MED, LAND_Q3, LAND_LO, LAND_HI, LAND_OUTLIERS,
                 [0.34, 4.66], 218, 121, "Land cover", "LandCover")


# ---------------- scatter panels (base graphics) ----------------
def base_scatter(column_sets, scattered, xdomain, xvalues, width, height, title, xtitle):
    df = points_frame(column_sets, scattered)
    return alt.Chart(df).mark_point(**BASE_POINT).encode(
        x=alt.X("x:Q", scale=alt.Scale(domain=xdomain, nice=False, zero=False),
                axis=base_x_axis(xvalues, xtitle)),
        y=alt.Y("y:Q", scale=alt.Scale(domain=[-3.63, 3.22], nice=False, zero=False),
                axis=base_y_axis())).properties(
        width=width, height=height, title=panel_title(title, 22))


temp = base_scatter([TEMP_COLUMNS, TEMP_CORE_EXTRA], TEMP_SCATTERED, [-2.83, 2.55],
                    [-2, -1, 0, 1, 2], 234, 119, "Temperature", "MAT")
arid = base_scatter([ARID_COLUMNS, ARID_CORE_EXTRA], ARID_SCATTERED, [-1.95, 2.15],
                    [-1, 0, 1, 2], 227, 119, "Aridity Index", "PET/MAP")

row1 = alt.hconcat(p1, depth, land, spacing=123, center=True, bounds="flush")
row2 = alt.hconcat(p2, temp, arid, spacing=125, bounds="flush")

# nested flush rows report no height of their own, so the spacing spans row 1's plot height too
chart = alt.vconcat(row1, row2, spacing=275, bounds="flush").properties(
    padding={"left": 0, "top": 3, "right": 0, "bottom": 0}, background="white"
).configure_view(stroke="#333333", strokeWidth=1).configure(font=FONT)

chart.save("out.html", embed_options={"renderer": "svg", "actions": False})
